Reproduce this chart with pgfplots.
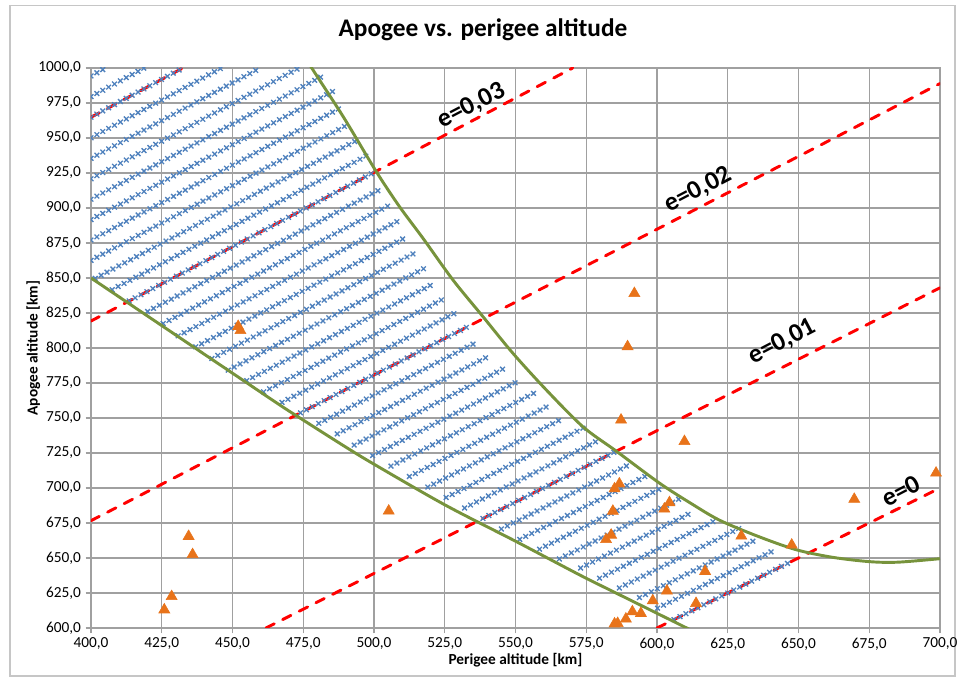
\documentclass[border=0pt]{standalone}
\usepackage{fontspec}
\setmainfont{Carlito}
\usepackage{pgfplots}
\pgfplotsset{compat=1.18}
\usetikzlibrary{decorations.markings}

\definecolor{crossblue}{HTML}{4F81BD}
\definecolor{curvegreen}{HTML}{77933C}
\definecolor{triorange}{HTML}{E8731A}
\definecolor{gridgray}{HTML}{A0A0A0}

% one row of blue crosses: the two end points come from the data,
% the crosses are set along the segment between them
\pgfplotsset{
  crossline/.style={draw=none, mark=none, forget plot,
    postaction={decorate},
    decoration={markings,
      mark=between positions 0 and 1 step 5pt with {
        \pgftransformresetnontranslations
        \pgfsetlinewidth{1pt}
        \pgfsetstrokecolor{crossblue}
        \pgfsetplotmarksize{2.5pt}
        \pgfuseplotmark{x}}}},
  eline/.style={red, line width=2.2pt, dash pattern=on 7pt off 7pt,
    line cap=round, forget plot},
}

\begin{document}
\begin{tikzpicture}[x=1pt,y=1pt]
\useasboundingbox (-68.25,-42) rectangle (655.5,471);
\draw[gray!45, line width=0.8pt] (-60.75,-36) rectangle (648,467);
\begin{axis}[
    at={(0,0)}, anchor=south west,
    width=636.75pt, height=420pt, scale only axis,
    xmin=400, xmax=700, ymin=600, ymax=1000,
    xtick={400,425,...,700}, ytick={600,625,...,1000},
    grid=major,
    grid style={gridgray, line width=1pt},
    axis line style={gridgray, line width=1pt},
    tick style={gridgray, line width=1pt},
    tick align=outside, major tick length=4pt,
    xtick pos=lower, ytick pos=left,
    xticklabel style={font=\fontsize{11.5}{13}\selectfont,
      /pgf/number format/.cd, fixed, fixed zerofill, precision=1,
      use comma, 1000 sep={}, assume math mode=true},
    yticklabel style={font=\fontsize{11.5}{13}\selectfont,
      /pgf/number format/.cd, fixed, fixed zerofill, precision=1,
      use comma, 1000 sep={}, assume math mode=true},
    xlabel={Perigee altitude [km]},
    ylabel={Apogee altitude [km]},
    xlabel style={font=\bfseries\fontsize{11.5}{13}\selectfont,
      at={(axis description cs:0.5,-0.057)}, anchor=center},
    ylabel style={font=\bfseries\fontsize{11.5}{13}\selectfont,
      at={(axis description cs:-0.068,0.5)}, anchor=center},
    title={Apogee vs. perigee altitude},
    title style={font=\bfseries\fontsize{19}{22}\selectfont,
      at={(axis description cs:0.4617,1.0536)}, anchor=center},
    clip=true,
  ]

  % constant eccentricity lines
  \addplot[eline] coordinates {(600,600) (700,700)};
  \addplot[eline] coordinates {(461.82,600) (700,842.99)};
  \addplot[eline] coordinates {(400,676.66) (700,988.90)};
  \addplot[eline] coordinates {(400,819.26) (570.21,1000)};
  \addplot[eline] coordinates {(400,964.83) (432.48,1000)};

  % rows of crosses, e = 0.042 down to 0
  \addplot[crossline] coordinates {(400,994.31) (405.2,1000)};
  \addplot[crossline] coordinates {(400,979.56) (418.8,1000)};
  \addplot[crossline] coordinates {(400,964.83) (432.5,1000)};
  \addplot[crossline] coordinates {(400,950.14) (446.1,1000)};
  \addplot[crossline] coordinates {(400,935.48) (459.8,1000)};
  \addplot[crossline] coordinates {(400,920.85) (473.5,1000)};
  \addplot[crossline] coordinates {(400,906.25) (482,994.37)};
  \addplot[crossline] coordinates {(400,891.67) (485.5,983.37)};
  \addplot[crossline] coordinates {(400,877.13) (488.5,971.86)};
  \addplot[crossline] coordinates {(400,862.61) (491,959.82)};
  \addplot[crossline] coordinates {(401.5,849.74) (494,948.35)};
  \addplot[crossline] coordinates {(407.5,841.66) (497.5,937.42)};
  \addplot[crossline] coordinates {(413.5,833.60) (501,926.51)};
  \addplot[crossline] coordinates {(420,826.06) (502,912.96)};
  \addplot[crossline] coordinates {(425.5,817.47) (506,902.61)};
  \addplot[crossline] coordinates {(430.8,808.68) (509,891.22)};
  \addplot[crossline] coordinates {(437,800.84) (512,879.84)};
  \addplot[crossline] coordinates {(442.7,792.48) (515,868.49)};
  \addplot[crossline] coordinates {(448.5,784.23) (518,857.15)};
  \addplot[crossline] coordinates {(455,776.72) (521.5,846.35)};
  \addplot[crossline] coordinates {(461,768.69) (525,835.57)};
  \addplot[crossline] coordinates {(467.5,761.18) (528.5,824.79)};
  \addplot[crossline] coordinates {(474,753.68) (534,816.13)};
  \addplot[crossline] coordinates {(480.5,746.17) (536,803.82)};
  \addplot[crossline] coordinates {(487,738.67) (541,794.65)};
  \addplot[crossline] coordinates {(493,730.65) (547,786.52)};
  \addplot[crossline] coordinates {(499.5,723.16) (551,776.34)};
  \addplot[crossline] coordinates {(506,715.66) (557,768.21)};
  \addplot[crossline] coordinates {(512.5,708.17) (561,758.05)};
  \addplot[crossline] coordinates {(519,700.68) (567,749.95)};
  \addplot[crossline] coordinates {(525.5,693.20) (574,742.87)};
  \addplot[crossline] coordinates {(532,685.71) (578.5,733.25)};
  \addplot[crossline] coordinates {(538.5,678.23) (585.5,726.18)};
  \addplot[crossline] coordinates {(545,670.75) (590.4,716.97)};
  \addplot[crossline] coordinates {(551.5,663.27) (596,708.48)};
  \addplot[crossline] coordinates {(558.5,656.29) (601,699.39)};
  \addplot[crossline] coordinates {(565.5,649.33) (608,692.34)};
  \addplot[crossline] coordinates {(573,642.86) (613,683.26)};
  \addplot[crossline] coordinates {(579.7,635.59) (621,677.22)};
  \addplot[crossline] coordinates {(586.7,628.61) (629,671.17)};
  \addplot[crossline] coordinates {(593.8,621.74) (635,663.11)};
  \addplot[crossline] coordinates {(600.2,614.17) (642,656.06)};
  \addplot[crossline] coordinates {(606,606) (648,648)};

  % boundary curves
  \addplot[curvegreen, line width=2.2pt, smooth, forget plot] coordinates {
    (400,850) (425,816) (450,782) (466.7,759.3) (475,748.5) (490.2,729)
    (500,717) (525,688) (550,662) (565.5,645.5) (575,635.5) (590,620.5)
    (600,610.5) (611,599.5) (615,595.5)};
  \addplot[curvegreen, line width=2.2pt, smooth, forget plot] coordinates {
    (474,1013) (478,1000) (489.5,964) (500.8,926) (509,901) (517.3,878.4)
    (527.9,848.6) (538.5,822.4) (549.1,796.2) (560.9,770) (573.8,743.8)
    (585.5,726.5) (601,703.3) (612,689) (622,677.1) (635,666) (649,656)
    (662,650.5) (675,647.4) (685,647) (700,649.5)};

  % observed satellites
  \addplot[only marks, mark=triangle*, mark size=4.8pt, color=triorange,
    mark options={fill=triorange, draw=triorange}] coordinates {
    (425.9,613) (428.5,622.5) (434.5,665.5) (435.9,652.5) (452.0,815.5)
    (452.8,812.5) (505.2,683.6) (582.0,663.2) (583.8,666.4) (584.4,683.5)
    (585.0,699.5) (586.7,703) (587.3,748.6) (589.6,801) (592,839)
    (585,603) (586.1,603.3) (589,606.5) (591.3,611.7) (594.3,610.5)
    (598.5,619.5) (603.5,626.5) (602.6,685) (604.4,689.6) (609.7,733.3)
    (613.8,617.6) (617,640.5) (629.8,665.7) (647.6,659.3) (669.7,692)
    (698.6,710.7)};

  % labels of the eccentricity lines
  \node[rotate=27.6, font=\bfseries\fontsize{19.5}{22}\selectfont]
    at (axis cs:534.5,973.1) {e=0,03};
  \node[rotate=27.6, font=\bfseries\fontsize{19.5}{22}\selectfont]
    at (axis cs:614.6,912.9) {e=0,02};
  \node[rotate=27.6, font=\bfseries\fontsize{19.5}{22}\selectfont]
    at (axis cs:644.3,804.3) {e=0,01};
  \node[rotate=27.6, font=\bfseries\fontsize{19.5}{22}\selectfont]
    at (axis cs:686.3,697.9) {e=0};
\end{axis}
\end{tikzpicture}
\end{document}
